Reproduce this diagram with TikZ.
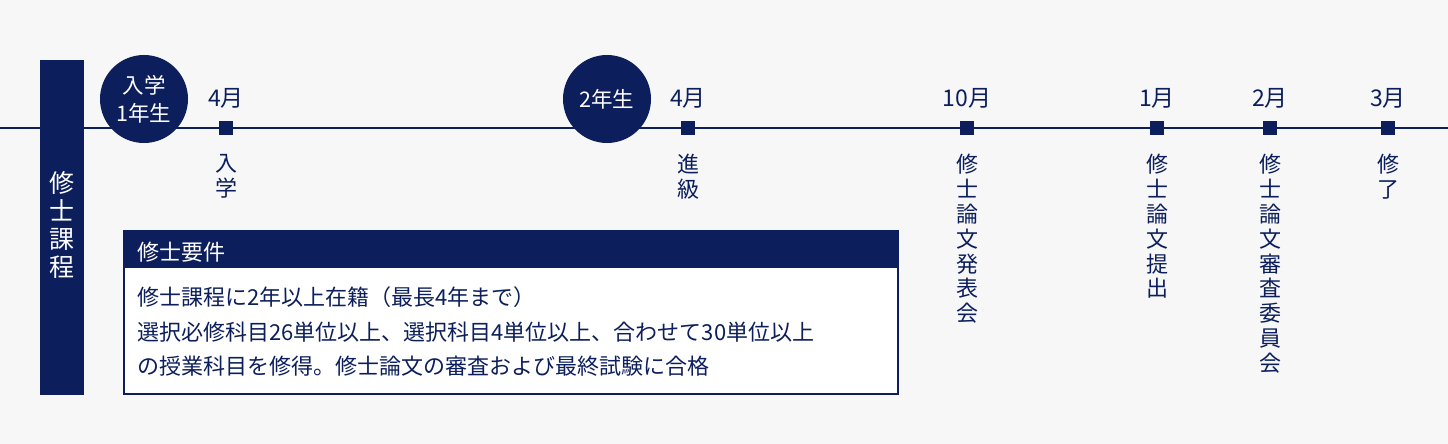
\documentclass[tikz,border=0pt]{standalone}
\usepackage{fontspec}
\setmainfont{Noto Sans CJK JP}
\usetikzlibrary{positioning}
\definecolor{navy}{HTML}{0C1F5C}
\definecolor{bgGray}{HTML}{F7F7F8}

\begin{document}
\begin{tikzpicture}[x=1pt, y=-1pt]
	\tikzstyle{yearCircle} = [circle, fill=navy, minimum size=88pt, 
	inner sep=0pt, text=white, align=center, font=\fontsize{21.5}{28}\selectfont]
	\tikzstyle{marker} = [rectangle, fill=navy, minimum size=14pt, inner sep=0pt]
	\tikzstyle{month} = [inner sep=0pt, text=navy, font=\fontsize{23}{27}\selectfont]
	\tikzstyle{event} = [inner sep=0pt, text=navy, align=center, 
	font=\fontsize{22}{24.8}\selectfont]
	\tikzstyle{timeline} = [navy, line width=2.5pt]
	\useasboundingbox (0,0) rectangle (1448,444);
	\fill [bgGray] (0,0) rectangle (1448,444);
	% timeline
	\coordinate (lineStart) at (0,128);
	\coordinate (lineEnd) at (1448,128);
	\draw [timeline] (lineStart) -- (lineEnd);
	% course bar
	\node (course) [fill=navy, minimum width=44pt, minimum height=335pt, 
	inner sep=0pt, anchor=north] at (62,60) {};
	\node (courseLabel) [text=white, align=center, inner sep=0pt, anchor=north, 
	font=\fontsize{25}{28}\selectfont] at (62,171) {修\\士\\課\\程};
	% years
	\node (firstYear) [yearCircle] at (144,99) {入学\\1年生};
	\node (secondYear) [yearCircle] at (607,99) {2年生};
	% markers
	\node (aprilOne) [marker] at (226,128) {};
	\node (aprilTwo) [marker] at (688,128) {};
	\node (october) [marker] at (967,128) {};
	\node (january) [marker] at (1157,128) {};
	\node (february) [marker] at (1270,128) {};
	\node (march) [marker] at (1388,128) {};
	% months
	\node (aprilOneMonth) [month, above=12pt of aprilOne] {4月};
	\node (aprilTwoMonth) [month, above=12pt of aprilTwo] {4月};
	\node (octoberMonth) [month, above=12pt of october] {10月};
	\node (januaryMonth) [month, above=12pt of january] {1月};
	\node (februaryMonth) [month, above=12pt of february] {2月};
	\node (marchMonth) [month, above=12pt of march] {3月};
	% events
	\node (entrance) [event, below=19pt of aprilOne] {入\\学};
	\node (promotion) [event, below=19pt of aprilTwo] {進\\級};
	\node (presentation) [event, below=19pt of october] {修\\士\\論\\文\\発\\表\\会};
	\node (submission) [event, below=19pt of january] {修\\士\\論\\文\\提\\出};
	\node (committee) [event, below=19pt of february] {修\\士\\論\\文\\審\\査\\委\\員\\会};
	\node (completion) [event, below=19pt of march] {修\\了};
	% requirements
	\node (reqBox) [draw=navy, line width=1.5pt, fill=white, minimum width=774pt, 
	minimum height=163pt, inner sep=0pt, anchor=north west] at (123,230) {};
	\node (reqHead) [fill=navy, minimum width=774pt, minimum height=38pt, 
	inner sep=0pt, anchor=north west] at (reqBox.north west) {};
	\node (reqTitle) [text=white, inner sep=0pt, anchor=west, yshift=-3pt, 
	font=\fontsize{22}{25}\selectfont, right=14pt of reqHead.west] {修士要件};
	\node (reqBody) [text=navy, inner sep=0pt, anchor=west, align=left, 
	font=\fontsize{22}{34.5}\selectfont] at (137,332) 
	{修士課程に2年以上在籍（最長4年まで）\\
	選択必修科目26単位以上、選択科目4単位以上、合わせて30単位以上\\
	の授業科目を修得。修士論文の審査および最終試験に合格};
\end{tikzpicture}
\end{document}
